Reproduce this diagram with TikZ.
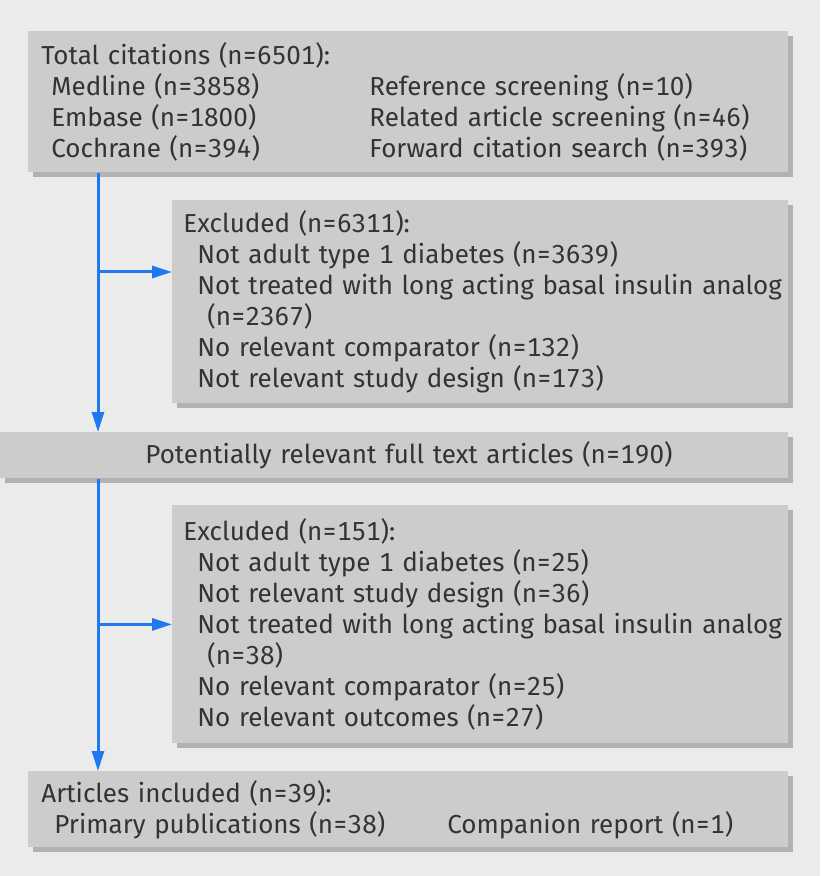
\documentclass[tikz,border=0pt]{standalone}
\usepackage{fontspec}
\setmainfont[Numbers=Monospaced]{Fira Sans}
\usetikzlibrary{arrows.meta,shadows}

\definecolor{pagegrey}{HTML}{EBEBEB}
\definecolor{boxgrey}{HTML}{CCCCCC}
\definecolor{shadegrey}{HTML}{B2B2B2}
\definecolor{flowblue}{HTML}{1F78F0}
\definecolor{textgrey}{HTML}{333333}

\begin{document}
\begin{tikzpicture}[x=0.5pt, y=-0.5pt,
  box/.style={fill=boxgrey, rectangle, anchor=north west, align=left,
              inner xsep=6.5pt, inner ysep=0pt, text=textgrey,
              font=\fontsize{13}{15.5}\selectfont,
              drop shadow={shadow xshift=2.5pt, shadow yshift=-2.5pt,
                           fill=shadegrey, opacity=1}},
  flow/.style={draw=flowblue, line width=1.5pt,
               -{Triangle[length=10pt,width=6pt]}}]

  \fill[pagegrey] (0,0) rectangle (820,876);
  \useasboundingbox (0,0) rectangle (820,876);

  \node[box, minimum width=380pt, minimum height=70.5pt, text width=367pt]
    (total) at (28,31)
    {Total citations (n=6501):\\
     \hspace*{5pt}\makebox[159pt][l]{Medline (n=3858)}Reference screening (n=10)\\
     \hspace*{5pt}\makebox[159pt][l]{Embase (n=1800)}Related article screening (n=46)\\
     \hspace*{5pt}\makebox[159pt][l]{Cochrane (n=394)}Forward citation search (n=393)};
  \node[box, minimum width=308pt, minimum height=101.5pt, text width=297pt,
        inner xsep=5.5pt]
    (excl1) at (172,200)
    {Excluded (n=6311):\\
     \hspace*{7pt}Not adult type 1 diabetes (n=3639)\\
     \hspace*{7pt}\mbox{Not treated with long acting basal insulin analog}\\
     \hspace*{12pt}(n=2367)\\
     \hspace*{7pt}No relevant comparator (n=132)\\
     \hspace*{7pt}Not relevant study design (n=173)};
  \node[box, minimum width=394pt, minimum height=23pt, text width=381pt]
    (relevant) at (0,432)
    {\hspace*{66pt}Potentially relevant full text articles (n=190)};
  \node[box, minimum width=308pt, minimum height=119pt, text width=297pt,
        inner xsep=5.5pt]
    (excl2) at (172,505)
    {Excluded (n=151):\\
     \hspace*{7pt}Not adult type 1 diabetes (n=25)\\
     \hspace*{7pt}Not relevant study design (n=36)\\
     \hspace*{7pt}\mbox{Not treated with long acting basal insulin analog}\\
     \hspace*{12pt}(n=38)\\
     \hspace*{7pt}No relevant comparator (n=25)\\
     \hspace*{7pt}No relevant outcomes (n=27)};
  \node[box, minimum width=380pt, minimum height=38pt, text width=367pt]
    (included) at (28,771)
    {Articles included (n=39):\\
     \hspace*{6.5pt}\makebox[196.5pt][l]{Primary publications (n=38)}Companion report (n=1)};

  \coordinate (trunk1) at ([xshift=35pt]total.south west);
  \coordinate (branch1) at (98,272);
  \coordinate (trunk2) at ([xshift=49pt]relevant.south west);

  \draw[flow] (trunk1) -- (trunk1 |- relevant.north);
  \draw[flow] (branch1) -- (branch1 -| excl1.west);
  \draw[flow] (trunk2) -- (trunk2 |- included.north);
  \draw[flow] (trunk2 |- excl2.west) -- (excl2.west);

\end{tikzpicture}
\end{document}
